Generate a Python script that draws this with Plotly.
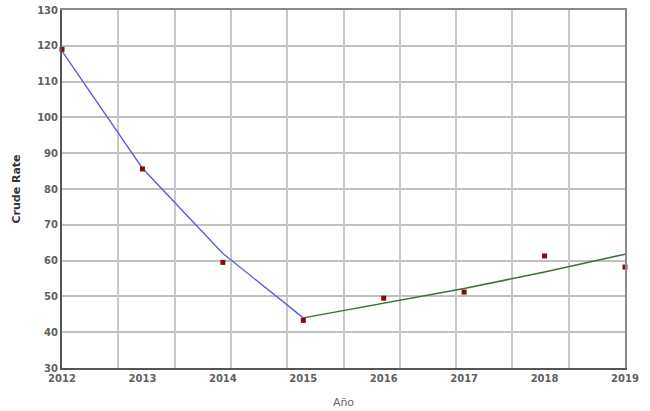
import plotly.graph_objects as go

# Observed crude rates per year
years = [2012, 2013, 2014, 2015, 2016, 2017, 2018, 2019]
crude_rate = [119.0, 85.6, 59.5, 43.3, 49.5, 51.2, 61.3, 58.2]

# Joinpoint fitted segments
seg1_years = [2012, 2013, 2014, 2015]
seg1_fit = [118.5, 85.8, 62.0, 44.0]
seg2_years = [2015, 2016, 2017, 2018, 2019]
seg2_fit = [44.0, 48.2, 52.2, 56.8, 61.8]

y_ticks = list(range(30, 131, 10))

fig = go.Figure()

# invisible trace to carry the overlay axes (top/right frame + vertical grid)
fig.add_trace(go.Scatter(x=[years[0]], y=[y_ticks[0]], mode='markers',
                         marker=dict(opacity=0), hoverinfo='skip',
                         showlegend=False, xaxis='x2', yaxis='y2'))

fig.add_trace(go.Scatter(x=seg1_years, y=seg1_fit, mode='lines',
                         line=dict(color='#5a5ad0', width=1.3), showlegend=False))
fig.add_trace(go.Scatter(x=seg2_years, y=seg2_fit, mode='lines',
                         line=dict(color='#3c6e3c', width=1.5), showlegend=False))
fig.add_trace(go.Scatter(x=years, y=crude_rate, mode='markers', cliponaxis=False,
                         marker=dict(symbol='square', size=5, color='#860a0a'),
                         showlegend=False))

tick_font = dict(family='DejaVu Sans', size=10, color='#5f5f5f', weight='bold')

fig.update_layout(
    width=650, height=411,
    margin=dict(l=62, r=25, t=10, b=43),
    paper_bgcolor='white', plot_bgcolor='white',
    xaxis=dict(range=[2012, 2019], tickvals=years, ticktext=[str(y) for y in years],
               showgrid=False, zeroline=False, showline=True, linecolor='#555555',
               linewidth=2, ticks='', tickfont=tick_font, automargin=False,
               ticklabeloverflow='allow',
               title=dict(text='Año', font=dict(family='DejaVu Sans', size=11, color='#666666'),
                          standoff=15)),
    yaxis=dict(range=[30, 130], tickvals=y_ticks, showgrid=True, gridcolor='#c0c0c0',
               gridwidth=1.5, zeroline=False, showline=True, linecolor='#555555',
               linewidth=2, ticks='', tickfont=tick_font, automargin=False,
               ticklabeloverflow='allow',
               title=dict(text='<b>Crude Rate</b>',
                          font=dict(family='DejaVu Sans', size=11, color='#333333'),
                          standoff=14)),
    xaxis2=dict(overlaying='x', side='top', range=[2012, 2019], tick0=2012, dtick=0.7,
                showgrid=True, gridcolor='#c8c8c8', gridwidth=1.5, showticklabels=False,
                ticks='', zeroline=False, showline=True, linecolor='#8a8a8a', linewidth=1.5,
                automargin=False),
    yaxis2=dict(overlaying='y', side='right', range=[30, 130], showgrid=False,
                showticklabels=False, ticks='', zeroline=False, showline=True,
                linecolor='#8a8a8a', linewidth=1.5, automargin=False),
)

# drop the default 8px page margin so the figure fills the window exactly
fig.write_html("out.html", config={'displayModeBar': False},
               post_script="document.body.style.margin = '0';")
